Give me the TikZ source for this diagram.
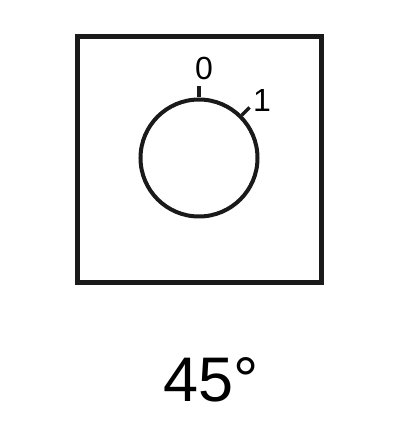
\documentclass[tikz,border=0pt]{standalone}
\usepackage{fontspec}
\setmainfont{Liberation Sans}
\usepackage{xcolor}
\definecolor{Black}{HTML}{1A1A1A}
\definecolor{White}{HTML}{FFFFFF}
\tikzset{
  every picture/.style={font={\normalsize}, x=1pt, y=1pt},
  plate/.style={draw=Black, line width=5pt, minimum width=244pt, minimum height=246pt, inner sep=0pt},
  dial/.style={draw=Black, line width=4pt, circle, minimum size=117pt, inner sep=0pt},
  tick/.style={Black, line width=3.5pt},
  mark label/.style={inner sep=0pt, font={\fontsize{32}{32}\selectfont}},
  angle label/.style={inner sep=0pt, font={\fontsize{63}{63}\selectfont}}}

\begin{document}
\begin{tikzpicture}
    \useasboundingbox[fill=White] (0,0) rectangle (400,440);

    \node[plate] (frame) at (199,280) {};
    \node[dial] (knob) at (199,282) {};

    \foreach \angle in {90, 45} {
      \draw[tick] (knob.\angle) -- ++(\angle:11);
    }

    \node[mark label] (zero) at (204,372) {0};
    \node[mark label] (one) at (262,340) {1};
    \node[angle label] (angle) at (211,60) {45°};
  \end{tikzpicture}
\end{document}
